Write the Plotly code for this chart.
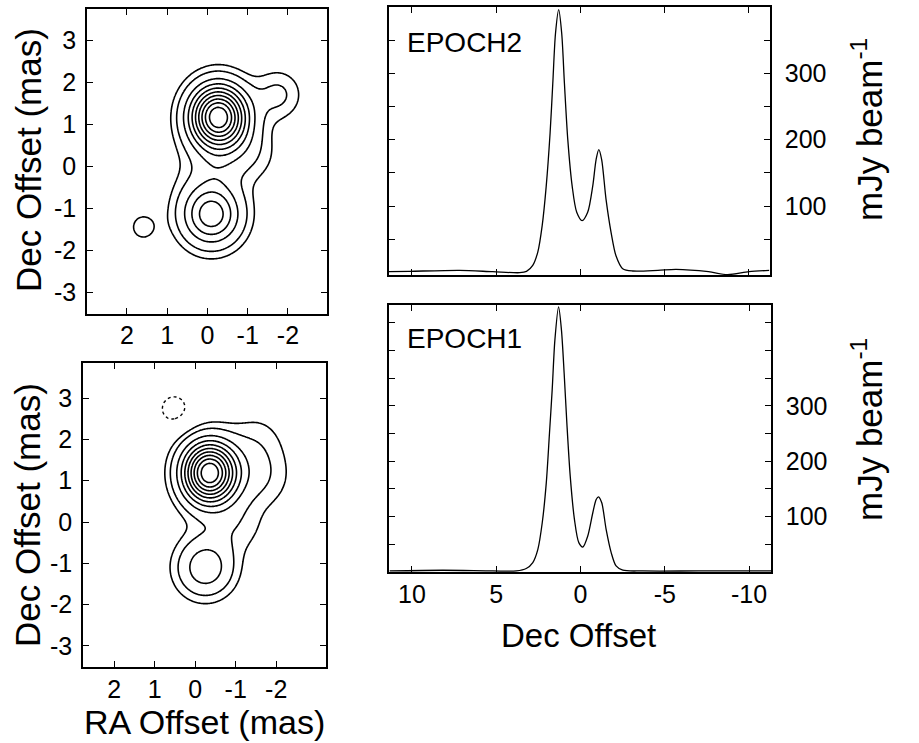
import numpy as np
import plotly.graph_objects as go

W, H = 919, 743
FONT = "Liberation Sans, Arial, sans-serif"

# ---------------- Map data: Gaussian components read from the contour maps ----------------
# (RA offset mas, Dec offset mas, peak mJy/beam, sigma RA mas, sigma Dec mas)
E2_RA = [-0.27, -0.10, -1.00, -1.75, -0.20, 1.60, 0.50]
E2_DEC = [1.17, -1.15, 0.30, 1.70, 0.00, -1.45, -0.10]
E2_PEAK = [390.0, 185.0, 35.0, 45.0, 30.0, 28.0, 10.0]
E2_SRA = [0.48, 0.50, 0.50, 0.40, 0.40, 0.275, 0.40]
E2_SDEC = [0.51, 0.50, 0.50, 0.40, 0.40, 0.275, 0.60]

E1_RA = [-0.35, -0.25, -1.55, -1.10, -0.45, -1.50, 0.52]
E1_DEC = [1.19, -1.11, 1.10, -0.10, -0.10, 2.00, 2.74]
E1_PEAK = [470.0, 130.0, 48.0, 28.0, 15.0, 28.0, -32.0]
E1_SRA = [0.45, 0.47, 0.55, 0.45, 0.55, 0.50, 0.38]
E1_SDEC = [0.50, 0.47, 0.55, 0.45, 0.55, 0.50, 0.38]

LEVELS_LOW_PCT = [5, 10]
LEVELS_HIGH_PCT = [20, 30, 40, 50, 60, 70, 80, 90]
LEVEL_NEG_PCT = -5

MAP_XTICKS = [2, 1, 0, -1, -2]
MAP_YTICKS = [-3, -2, -1, 0, 1, 2, 3]

# ---------------- Profile data (Dec offset, mJy/beam) ----------------
E2_X = [11.36, 10.14, 7.17, 5.2, 3.6, 3.2, 2.83, 2.53, 2.27, 2.03, 1.8, 1.64, 1.48, 1.29,
        1.11, 0.95, 0.75, 0.49, 0.22, -0.1, -0.43, -0.73, -0.93, -1.09, -1.26, -1.52,
        -1.82, -2.11, -2.51, -3.1, -4.6, -5.67, -7.6, -8.73, -10.0, -11.2]
E2_Y = [1, 1.5, 3, 1, -0.5, 1.5, 10.5, 30.6, 70.5, 130, 210, 285, 360, 396,
        360, 285, 200, 130, 90.5, 78, 90.5, 130, 170, 185, 170, 110,
        60, 25, 5.5, 2, 3, 4.5, 1, -3.4, 1, 3]

E1_X = [11.32, 8.16, 5.2, 3.8, 3.22, 2.83, 2.53, 2.27, 2.03, 1.84, 1.68, 1.52, 1.3,
        1.13, 0.97, 0.81, 0.61, 0.36, 0.1, -0.14, -0.43, -0.73, -0.93, -1.07, -1.26,
        -1.52, -1.82, -2.11, -2.51, -3.7, -7.0, -11.3]
E1_Y = [1.4, 2.7, 1.4, 1.4, 5.8, 16.6, 40.5, 88.6, 160.7, 251, 329, 419, 479,
        437, 359, 269, 173, 94.6, 52.6, 44.7, 64.5, 106.7, 130.6, 135.5, 124.7,
        76.6, 34.6, 10.5, 2.7, 1.4, 1.4, 1.4]

PROF_XTICKS = [10, 5, 0, -5, -10]
E2_YTICKS = [50, 100, 150, 200, 250, 300, 350]
E1_YTICKS = [50, 100, 150, 200, 250, 300, 350, 400, 450]
YLABELS = {100: "100", 200: "200", 300: "300"}


def make_map(ra, dec, peak, sra, sdec):
    gx = np.linspace(-3.4, 3.4, 273)
    gy = np.linspace(-3.7, 4.0, 309)
    X, Y = np.meshgrid(gx, gy)
    Z = np.zeros_like(X)
    for a, d, p, sx, sy in zip(ra, dec, peak, sra, sdec):
        Z += p * np.exp(-0.5 * (((X - a) / sx) ** 2 + ((Y - d) / sy) ** 2))
    return gx, gy, Z


def px_x(p):
    return p / W


def px_y(p):
    return 1 - p / H


fig = go.Figure()


def add_map(ra, dec, peak, sra, sdec, xa, ya, neg=False):
    gx, gy, Z = make_map(ra, dec, peak, sra, sdec)
    zmax = Z.max()
    lo = [v / 100 * zmax for v in LEVELS_LOW_PCT]
    hi = [v / 100 * zmax for v in LEVELS_HIGH_PCT]
    common = dict(x=gx, y=gy, z=Z, xaxis=xa, yaxis=ya, showscale=False,
                  hoverinfo="skip")
    fig.add_trace(go.Contour(**common,
                             contours=dict(start=lo[0], end=lo[-1], size=lo[1] - lo[0],
                                           coloring="none"),
                             line=dict(color="black", width=1.6, smoothing=1.0)))
    fig.add_trace(go.Contour(**common,
                             contours=dict(start=hi[0], end=hi[-1], size=hi[1] - hi[0],
                                           coloring="none"),
                             line=dict(color="black", width=1.6, smoothing=1.0)))
    if neg:
        nl = LEVEL_NEG_PCT / 100 * zmax
        fig.add_trace(go.Contour(**common,
                                 contours=dict(start=nl, end=nl, size=1.0, coloring="none"),
                                 line=dict(color="black", width=1.4, dash="dot",
                                           smoothing=1.0)))


add_map(E2_RA, E2_DEC, E2_PEAK, E2_SRA, E2_SDEC, "x", "y")
add_map(E1_RA, E1_DEC, E1_PEAK, E1_SRA, E1_SDEC, "x2", "y2", neg=True)

fig.add_trace(go.Scatter(x=E2_X, y=E2_Y, mode="lines", xaxis="x3", yaxis="y3",
                         line=dict(color="black", width=1.3, shape="spline", smoothing=0.8),
                         hoverinfo="skip", showlegend=False))
fig.add_trace(go.Scatter(x=E1_X, y=E1_Y, mode="lines", xaxis="x4", yaxis="y4",
                         line=dict(color="black", width=1.3, shape="spline", smoothing=0.8),
                         hoverinfo="skip", showlegend=False))

axcommon = dict(showline=True, linecolor="black", linewidth=1.5, mirror="ticks",
                ticks="inside", ticklen=6, tickwidth=1.3, tickcolor="black",
                showgrid=False, zeroline=False,
                tickfont=dict(family=FONT, size=25, color="black"))

fig.update_layout(
    width=W, height=H, margin=dict(l=0, r=0, t=0, b=0),
    paper_bgcolor="white", plot_bgcolor="white", showlegend=False,
    xaxis=dict(**axcommon, domain=[px_x(87), px_x(327)], range=[2.99, -2.97],
               tickvals=MAP_XTICKS, ticktext=[str(v) for v in MAP_XTICKS],
               anchor="y", ticklabelstandoff=-2),
    yaxis=dict(**axcommon, domain=[px_y(314), px_y(9)], range=[-3.52, 3.74],
               tickvals=MAP_YTICKS, ticktext=[str(v) for v in MAP_YTICKS],
               anchor="x", ticklabelstandoff=4),
    xaxis2=dict(**axcommon, domain=[px_x(83), px_x(326)], range=[2.77, -3.23],
                tickvals=MAP_XTICKS, ticktext=[str(v) for v in MAP_XTICKS],
                anchor="y2", ticklabelstandoff=-1),
    yaxis2=dict(**axcommon, domain=[px_y(667), px_y(363)], range=[-3.51, 3.85],
                tickvals=MAP_YTICKS, ticktext=[str(v) for v in MAP_YTICKS],
                anchor="x2", ticklabelstandoff=4),
    xaxis3=dict(**axcommon, domain=[px_x(389), px_x(770)], range=[11.36, -11.25],
                tickvals=PROF_XTICKS, showticklabels=False, anchor="y3"),
    yaxis3=dict(**axcommon, domain=[px_y(275), px_y(7)], range=[-4, 400], side="right",
                tickvals=E2_YTICKS, ticktext=[YLABELS.get(v, "") for v in E2_YTICKS],
                anchor="x3", ticklabelstandoff=8),
    xaxis4=dict(**axcommon, domain=[px_x(389), px_x(771)], range=[11.36, -11.3],
                tickvals=PROF_XTICKS, ticktext=[str(v) for v in PROF_XTICKS],
                anchor="y4", ticklabelstandoff=-1),
    yaxis4=dict(**axcommon, domain=[px_y(572), px_y(305)], range=[-0.5, 482.5], side="right",
                tickvals=E1_YTICKS, ticktext=[YLABELS.get(v, "") for v in E1_YTICKS],
                anchor="x4", ticklabelstandoff=8),
)

ann = []


def label(text, x, y, size, angle=0, xanchor="center"):
    ann.append(dict(text=text, x=px_x(x), y=px_y(y), xref="paper", yref="paper",
                    showarrow=False, textangle=angle, xanchor=xanchor, yanchor="middle",
                    font=dict(family=FONT, size=size, color="black")))


label("Dec Offset (mas)", 28, 160, 35, angle=-90)
label("Dec Offset (mas)", 27, 515, 35, angle=-90)
label("RA Offset (mas)", 204, 722, 34)
label("Dec Offset", 578, 635, 33)
label("mJy beam<sup>-1</sup>", 867, 130, 35, angle=-90)
label("mJy beam<sup>-1</sup>", 867, 430, 35, angle=-90)
label("EPOCH2", 405, 43, 28, xanchor="left")
label("EPOCH1", 405, 338, 28, xanchor="left")
fig.update_layout(annotations=ann)

fig.write_html("out.html")
